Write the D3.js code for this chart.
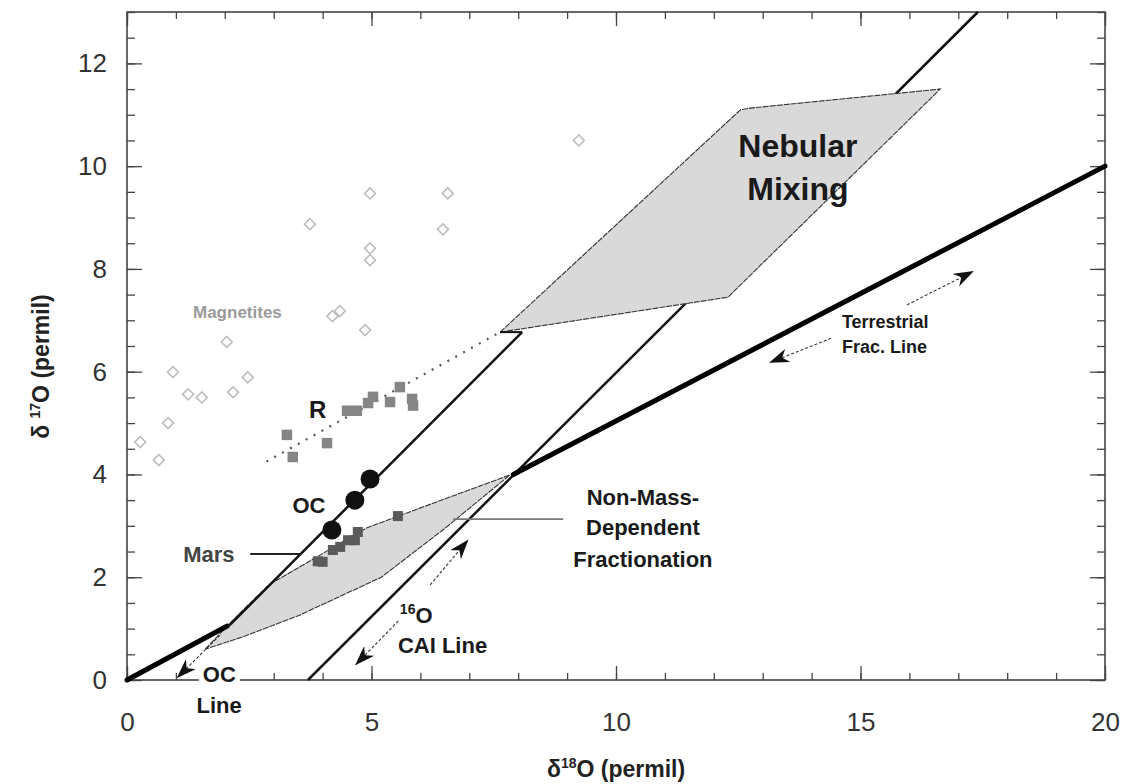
<!DOCTYPE html>
<html>
<head>
<meta charset="utf-8">
<script src="https://cdn.jsdelivr.net/npm/d3@7"></script>
<style>
  body { margin: 0; background: #fff; }
  text { font-family: Arial, "Liberation Sans", sans-serif; }
</style>
</head>
<body>
<div id="plot"></div>
<script>
// ---- data (delta18O, delta17O in permil) ----
const magnetites = [
  [0.27, 4.63], [0.65, 4.28], [0.84, 5.0], [0.94, 5.99], [1.25, 5.56], [1.53, 5.5],
  [2.17, 5.6], [2.47, 5.89], [2.04, 6.58], [3.74, 8.87], [4.2, 7.08], [4.35, 7.18],
  [4.87, 6.81], [4.97, 8.17], [4.97, 8.4], [4.97, 9.47], [6.46, 8.77], [6.56, 9.47],
  [9.24, 10.5]
];
const rChondrites = [
  [3.27, 4.77], [3.39, 4.34], [4.09, 4.61], [4.5, 5.24], [4.7, 5.24], [4.93, 5.39],
  [5.03, 5.51], [5.38, 5.41], [5.58, 5.7], [5.83, 5.47], [5.85, 5.34]
];
const marsPoints = [
  [3.9, 2.31], [4.0, 2.3], [4.21, 2.53], [4.36, 2.59], [4.52, 2.72], [4.66, 2.72],
  [4.72, 2.88], [5.54, 3.19]
];
const ocPoints = [[4.19, 2.92], [4.66, 3.5], [4.97, 3.91]];

const tflSegments = [[[0, 0], [2.05, 1.05]], [[7.9, 4.0], [20, 10]]];
const ocLine = [[2.1, 1.07], [8.08, 6.77]];
const caiLine = [[3.7, 0], [17.4, 13]];
const rTrend = [[2.85, 4.25], [7.63, 6.77]];

const nebularRegion = [[7.63, 6.77], [12.55, 11.1], [12.75, 11.13], [16.63, 11.5], [12.29, 7.45]];
const nmdfRegion = [
  [1.6, 0.6], [2.2, 1.2], [2.9, 1.85], [3.8, 2.35], [4.9, 2.96], [6.6, 3.56], [7.83, 3.99],
  [6.5, 2.95], [5.2, 2.0], [3.5, 1.25], [2.4, 0.85]
];

const arrows = [
  [[1.9, 0.87], [1.03, 0.05]],
  [[5.55, 1.15], [4.68, 0.3]],
  [[6.2, 1.85], [6.97, 2.72]],
  [[14.4, 6.65], [13.15, 6.18]],
  [[15.95, 7.3], [17.3, 7.95]]
];
const pointerLines = [
  [[2.52, 2.45], [3.54, 2.45]],
  [[6.67, 3.13], [8.92, 3.13]]
];

const xTicks = [0, 5, 10, 15, 20];
const yTicks = [0, 2, 4, 6, 8, 10, 12];

// ---- layout ----
const width = 1128, height = 784;
const x = d3.scaleLinear().domain([0, 20]).range([127, 1105]);
const y = d3.scaleLinear().domain([0, 13]).range([680, 12]);

const svg = d3.select("#plot").append("svg")
  .attr("width", width).attr("height", height);

svg.append("defs").append("marker")
  .attr("id", "head")
  .attr("markerUnits", "userSpaceOnUse")
  .attr("viewBox", "0 0 20 14")
  .attr("markerWidth", 20).attr("markerHeight", 14)
  .attr("refX", 19).attr("refY", 7)
  .attr("orient", "auto")
  .append("path")
  .attr("d", "M0,0 L20,7 L0,14 L6,7 Z")
  .attr("fill", "#111");

const line = d3.line().x(d => x(d[0])).y(d => y(d[1]));

// axes: minor + major ticks, all pointing inward
const axisStyle = g => {
  g.select(".domain").remove();
  g.selectAll("line").attr("stroke", "#444").attr("stroke-width", 1.3);
  g.selectAll("text").attr("fill", "#333").style("font-size", "26px");
};

svg.append("g").attr("transform", `translate(0,${y(0)})`)
  .call(d3.axisBottom(x).tickValues(d3.range(0, 21)).tickSize(-7).tickFormat(""))
  .call(axisStyle);
svg.append("g").attr("transform", `translate(0,${y(0)})`)
  .call(d3.axisBottom(x).tickValues(xTicks).tickSize(-14).tickPadding(33).tickFormat(d3.format("d")))
  .call(axisStyle);
svg.append("g").attr("transform", `translate(0,${y(13)})`)
  .call(d3.axisTop(x).tickValues(d3.range(0, 21)).tickSize(-7).tickFormat(""))
  .call(axisStyle);
svg.append("g").attr("transform", `translate(0,${y(13)})`)
  .call(d3.axisTop(x).tickValues(xTicks).tickSize(-14).tickFormat(""))
  .call(axisStyle);

svg.append("g").attr("transform", `translate(${x(0)},0)`)
  .call(d3.axisLeft(y).tickValues(d3.range(0, 13.01, 0.5)).tickSize(-8).tickFormat(""))
  .call(axisStyle);
svg.append("g").attr("transform", `translate(${x(0)},0)`)
  .call(d3.axisLeft(y).tickValues(yTicks).tickSize(-15).tickPadding(20).tickFormat(d3.format("d")))
  .call(axisStyle);
svg.append("g").attr("transform", `translate(${x(20)},0)`)
  .call(d3.axisRight(y).tickValues(d3.range(0, 13.01, 0.5)).tickSize(-8).tickFormat(""))
  .call(axisStyle);
svg.append("g").attr("transform", `translate(${x(20)},0)`)
  .call(d3.axisRight(y).tickValues(yTicks).tickSize(-15).tickFormat(""))
  .call(axisStyle);

svg.append("rect")
  .attr("x", x(0)).attr("y", y(13))
  .attr("width", x(20) - x(0)).attr("height", y(0) - y(13))
  .attr("fill", "none").attr("stroke", "#444").attr("stroke-width", 1.6);

// CAI line sits under the nebular region
svg.append("path").attr("d", line(caiLine))
  .attr("stroke", "#111").attr("stroke-width", 2.5).attr("fill", "none");

// shaded regions
[nebularRegion, nmdfRegion].forEach(poly => {
  svg.append("path")
    .attr("d", line(poly) + "Z")
    .attr("fill", "#d9d9d9")
    .attr("stroke", "#333")
    .attr("stroke-width", 1.1)
    .attr("stroke-dasharray", "6,1");
});

// terrestrial fractionation line (thick)
tflSegments.forEach(seg => {
  svg.append("path").attr("d", line(seg))
    .attr("stroke", "#000").attr("stroke-width", 5).attr("fill", "none")
    .attr("stroke-linecap", "round");
});

// OC line
svg.append("path").attr("d", line(ocLine))
  .attr("stroke", "#111").attr("stroke-width", 2.5).attr("fill", "none");
svg.append("path").attr("d", line([[7.63, 6.77], [8.08, 6.77]]))
  .attr("stroke", "#111").attr("stroke-width", 2).attr("fill", "none");

// R trend (dotted)
svg.append("path").attr("d", line(rTrend))
  .attr("stroke", "#555").attr("stroke-width", 2.2).attr("fill", "none")
  .attr("stroke-dasharray", "2,7");

// arrows
arrows.forEach(a => {
  svg.append("path").attr("d", line(a))
    .attr("stroke", "#333").attr("stroke-width", 1.1).attr("fill", "none")
    .attr("stroke-dasharray", "3,2")
    .attr("marker-end", "url(#head)");
});

// pointer lines
svg.append("path").attr("d", line(pointerLines[0]))
  .attr("stroke", "#222").attr("stroke-width", 2).attr("fill", "none");
svg.append("path").attr("d", line(pointerLines[1]))
  .attr("stroke", "#777").attr("stroke-width", 1.6).attr("fill", "none");

// points
const diamond = d3.symbol().type(d3.symbolSquare).size(60);
svg.append("g").selectAll("path").data(magnetites).join("path")
  .attr("d", diamond)
  .attr("transform", d => `translate(${x(d[0])},${y(d[1])}) rotate(45)`)
  .attr("fill", "none").attr("stroke", "#bdbdbd").attr("stroke-width", 1.6);

const square = d3.symbol().type(d3.symbolSquare);
svg.append("g").selectAll("path").data(rChondrites).join("path")
  .attr("d", square.size(110)())
  .attr("transform", d => `translate(${x(d[0])},${y(d[1])})`)
  .attr("fill", "#858585");
svg.append("g").selectAll("path").data(marsPoints).join("path")
  .attr("d", square.size(100)())
  .attr("transform", d => `translate(${x(d[0])},${y(d[1])})`)
  .attr("fill", "#5a5a5a");
svg.append("g").selectAll("circle").data(ocPoints).join("circle")
  .attr("cx", d => x(d[0])).attr("cy", d => y(d[1])).attr("r", 9.5)
  .attr("fill", "#111");

// annotations
function label(txt, dx, dy, size, opts = {}) {
  return svg.append("text")
    .attr("x", x(dx)).attr("y", y(dy))
    .attr("text-anchor", opts.anchor || "start")
    .attr("font-weight", opts.weight || "bold")
    .attr("fill", opts.fill || "#1a1a1a")
    .style("font-size", size + "px")
    .text(txt);
}
label("Nebular", 13.72, 10.18, 32, { anchor: "middle" });
label("Mixing", 13.72, 9.34, 32, { anchor: "middle" });
label("Terrestrial", 14.62, 6.85, 18);
label("Frac. Line", 14.62, 6.36, 18);
label("Magnetites", 1.35, 7.05, 17, { fill: "#9a9a9a" });
label("R", 3.72, 5.1, 24);
label("OC", 3.72, 3.25, 22, { anchor: "middle" });
label("Mars", 1.15, 2.3, 22, { fill: "#444" });
label("Non-Mass-", 10.55, 3.41, 22, { anchor: "middle" });
label("Dependent", 10.55, 2.82, 22, { anchor: "middle" });
label("Fractionation", 10.55, 2.2, 22, { anchor: "middle" });

const ocText = label("OC", 1.55, -0.04, 22);
const bb = ocText.node().getBBox();
svg.insert("rect", () => ocText.node())
  .attr("x", bb.x - 4).attr("y", bb.y).attr("width", bb.width + 8).attr("height", bb.height)
  .attr("fill", "#fff");
label("Line", 1.42, -0.64, 22);
label("CAI Line", 5.54, 0.53, 22);
const o16 = label("", 5.58, 1.11, 22);
o16.append("tspan").attr("dy", -9).style("font-size", "14px").text("16");
o16.append("tspan").attr("dy", 9).text("O");

// axis titles
const xt = svg.append("text")
  .attr("x", x(10)).attr("y", 777)
  .attr("text-anchor", "middle").attr("font-weight", "bold").attr("fill", "#222")
  .style("font-size", "23px");
xt.append("tspan").text("δ");
xt.append("tspan").attr("dy", -9).style("font-size", "14px").text("18");
xt.append("tspan").attr("dy", 9).text("O (permil)");

const yt = svg.append("text")
  .attr("transform", `translate(49,${y(6.1)}) rotate(-90)`)
  .attr("text-anchor", "middle").attr("font-weight", "bold").attr("fill", "#222")
  .style("font-size", "23px");
yt.append("tspan").text("δ ");
yt.append("tspan").attr("dy", -9).style("font-size", "14px").text("17");
yt.append("tspan").attr("dy", 9).text("O (permil)");
</script>
</body>
</html>
